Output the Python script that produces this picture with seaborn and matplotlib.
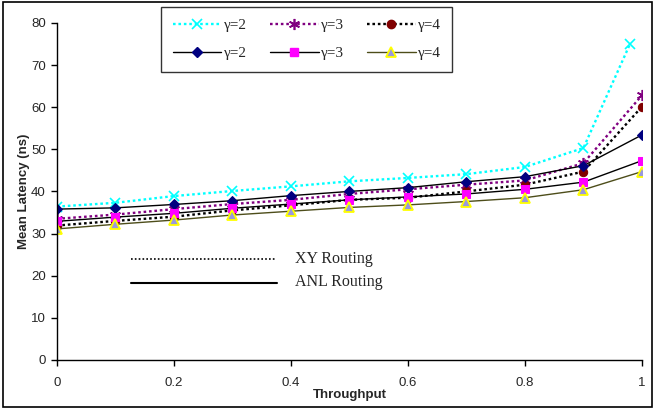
import numpy as np
import pandas as pd
import matplotlib
matplotlib.use('Agg')
import matplotlib.pyplot as plt
import seaborn as sns
from matplotlib.patches import Rectangle
from matplotlib.lines import Line2D

# Set style
sns.set_theme(style="white")
plt.rcParams['font.family'] = ['Liberation Sans', 'DejaVu Sans']
plt.rcParams['font.size'] = 9.5

# Data
throughput = [0, 0.1, 0.2, 0.3, 0.4, 0.5, 0.6, 0.7, 0.8, 0.9, 1.0]
throughput_cyan = [0, 0.1, 0.2, 0.3, 0.4, 0.5, 0.6, 0.7, 0.8, 0.9, 0.98]

xy_g2 = [36.4, 37.3, 38.9, 40.1, 41.2, 42.4, 43.2, 44.1, 45.8, 50.3, 75.1]
xy_g3 = [33.5, 34.5, 35.8, 37.0, 38.0, 39.4, 40.5, 41.6, 42.6, 46.7, 62.8]
xy_g4 = [31.9, 33.0, 34.0, 35.5, 36.7, 38.0, 38.5, 40.0, 41.6, 44.7, 60.1]
anl_g2 = [35.8, 36.1, 36.9, 37.8, 39.0, 40.0, 40.9, 42.3, 43.5, 46.1, 53.4]
anl_g3 = [32.9, 33.9, 34.8, 36.0, 37.0, 38.0, 38.7, 39.4, 40.5, 42.2, 47.3]
anl_g4 = [31.1, 32.2, 33.2, 34.4, 35.3, 36.2, 36.8, 37.6, 38.5, 40.4, 44.7]

yticks = [0, 10, 20, 30, 40, 50, 60, 70, 80]
xticks = [0, 0.2, 0.4, 0.6, 0.8, 1.0]
xticklabels = ['0', '0.2', '0.4', '0.6', '0.8', '1']

fig = plt.figure(figsize=(6.55, 4.09), dpi=100)
ax = fig.add_axes([0.087, 0.120, 0.893, 0.824])

dot = (0, (1.1, 1.2))
series = [
    (throughput_cyan, xy_g2, dict(color='#00FFFF', linestyle=dot, linewidth=1.7,
                                  marker='x', markersize=7, markeredgewidth=1.2,
                                  markeredgecolor='#00FFFF')),
    (throughput, anl_g2, dict(color='black', linestyle='-', linewidth=1.0,
                              marker='D', markersize=5.5, markerfacecolor='#000080',
                              markeredgecolor='#000080')),
    (throughput, xy_g3, dict(color='#800080', linestyle=dot, linewidth=1.7,
                             marker=(6, 2, 0), markersize=8, markeredgewidth=1.2,
                             markeredgecolor='#800080')),
    (throughput, anl_g3, dict(color='black', linestyle='-', linewidth=1.0,
                              marker='s', markersize=6, markerfacecolor='#FF00FF',
                              markeredgecolor='#FF00FF')),
    (throughput, xy_g4, dict(color='black', linestyle=dot, linewidth=1.7,
                             marker='o', markersize=6, markerfacecolor='#800000',
                             markeredgecolor='#800000')),
    (throughput, anl_g4, dict(color='#4d4d1a', linestyle='-', linewidth=1.0,
                              marker='^', markersize=6.5, markerfacecolor='#9999DD',
                              markeredgecolor='#FFFF00', markeredgewidth=1.3)),
]
labels = ['\u03b3=2', '\u03b3=2', '\u03b3=3', '\u03b3=3', '\u03b3=4', '\u03b3=4']

# draw in z-order similar to the reference (ANL on top)
draw_order = [0, 2, 4, 1, 3, 5]
for i in draw_order:
    xs, ys, kw = series[i]
    df = pd.DataFrame({'x': xs, 'y': ys})
    sns.lineplot(data=df, x='x', y='y', ax=ax, errorbar=None, sort=False, **kw)

ax.set_xlim(0, 1)
ax.set_ylim(0, 80)
ax.set_xticks(xticks)
ax.set_xticklabels(xticklabels)
ax.set_yticks(yticks)
ax.tick_params(axis='both', direction='out', length=4, width=1, color='black',
               labelsize=9.5, bottom=True, left=True)
ax.tick_params(axis='x', pad=8)
ax.tick_params(axis='y', pad=4)
for s in ['top', 'right']:
    ax.spines[s].set_visible(False)
for s in ['left', 'bottom']:
    ax.spines[s].set_color('black')
    ax.spines[s].set_linewidth(1)
ax.set_xlabel('Throughput', fontsize=9.5, fontweight='bold')
ax.set_ylabel('Mean Latency (ns)', fontsize=9.5, fontweight='bold')
ax.xaxis.set_label_coords(0.5, -0.104)
ax.yaxis.set_label_coords(-0.057, 0.5)
ax.xaxis.label.set_va('center')
ax.yaxis.label.set_va('center')

# Legend
handles = []
for xs, ys, kw in series:
    handles.append(Line2D([0], [0], **kw))
leg = fig.legend(handles, labels, ncol=3, loc='upper left',
                 bbox_to_anchor=(0.246, 0.983), frameon=True, fancybox=False,
                 prop={'family': 'Liberation Serif', 'size': 11},
                 handlelength=3.2, handletextpad=0.15, columnspacing=1.5,
                 labelspacing=0.95, borderpad=0.75, borderaxespad=0)
leg.get_frame().set_edgecolor('black')
leg.get_frame().set_linewidth(1)

# XY / ANL routing key inside the plot
ax.plot([0.1265, 0.373], [23.9, 23.9], color='black', linestyle=(0, (1, 1.3)), linewidth=1.2)
ax.plot([0.1265, 0.376], [18.2, 18.2], color='black', linestyle='-', linewidth=1.5)
ax.text(0.407, 23.9, 'XY Routing', fontsize=11.5, family='Liberation Serif', va='center')
ax.text(0.407, 18.6, 'ANL Routing', fontsize=11.5, family='Liberation Serif', va='center')

# Outer border
fig.patches.append(Rectangle((0.004, 0.005), 0.992, 0.99, transform=fig.transFigure,
                             fill=False, edgecolor='black', linewidth=1.2))

plt.savefig('out.png', dpi=100)
plt.close()
